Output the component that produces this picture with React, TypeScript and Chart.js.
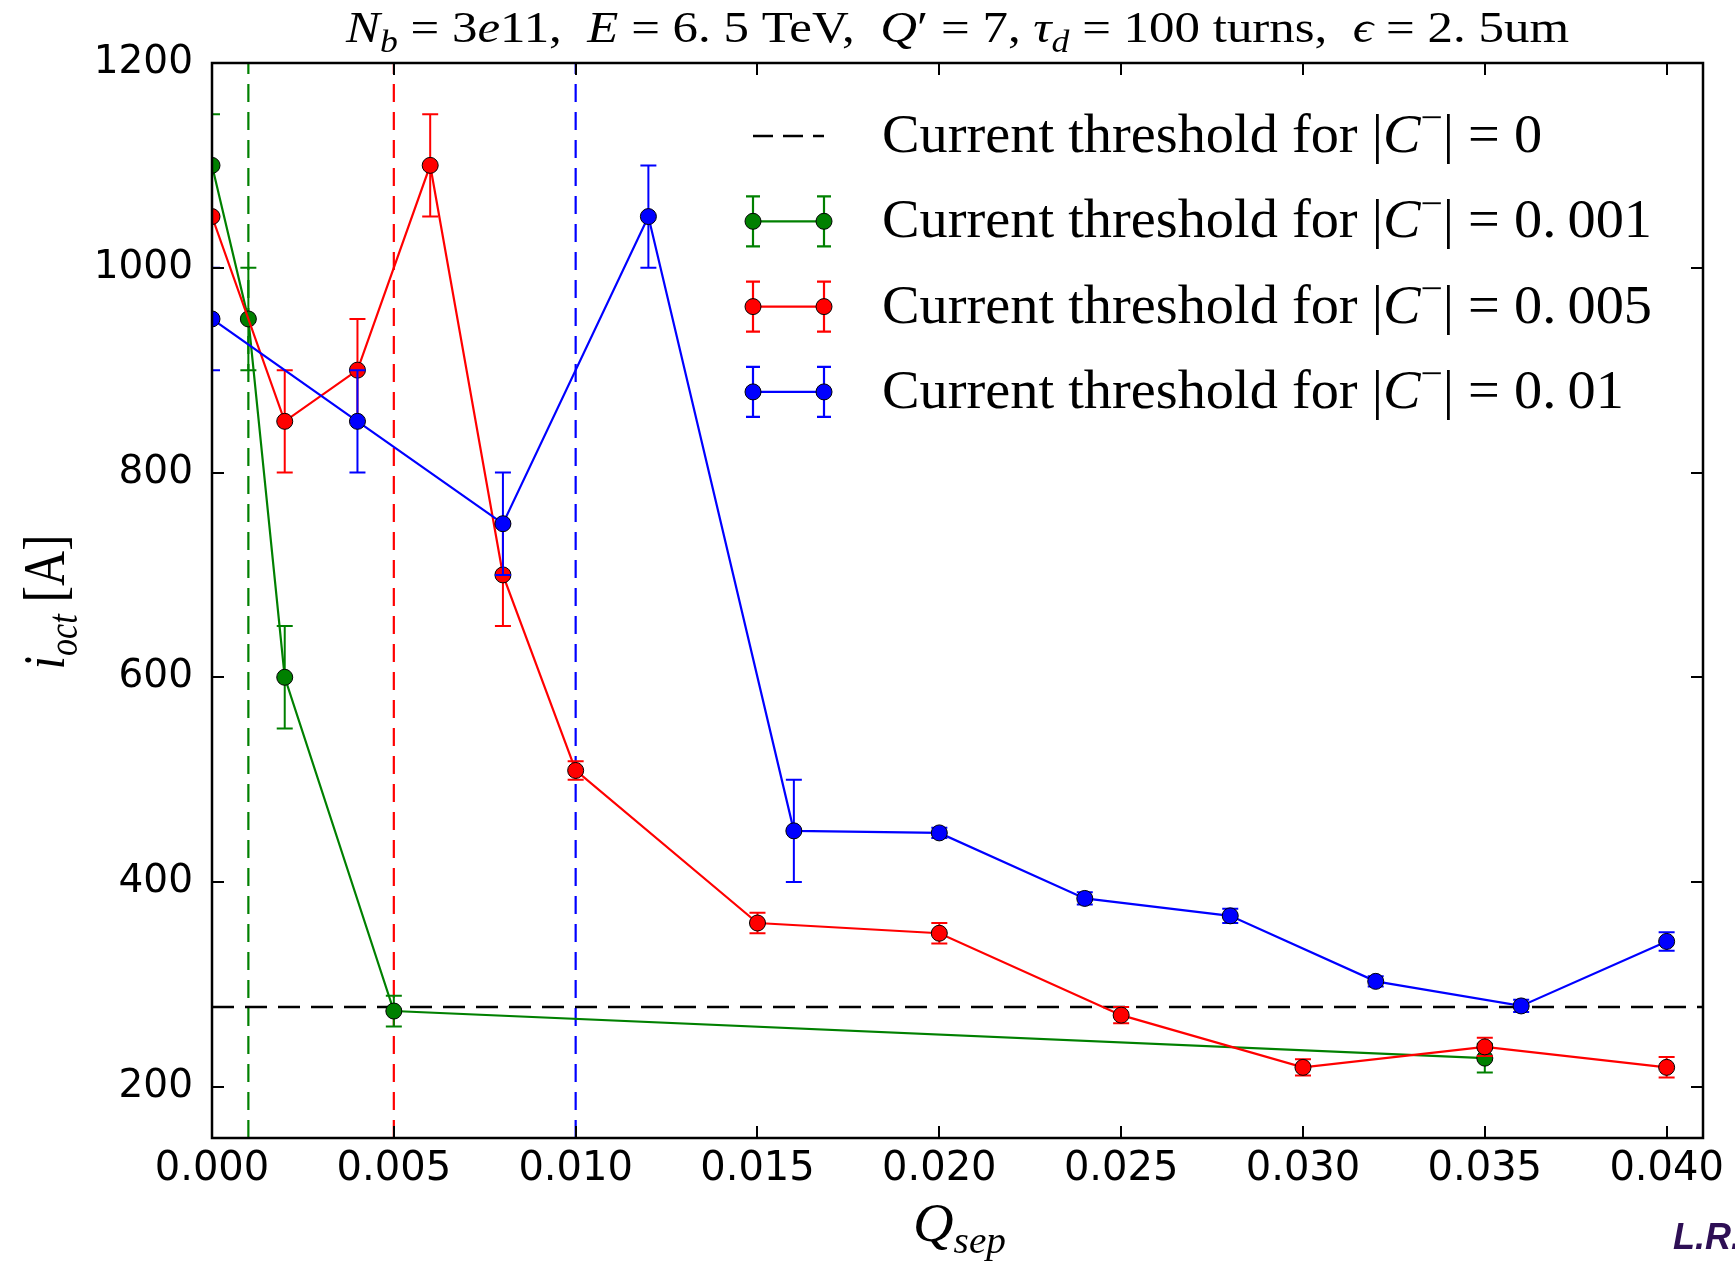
import React, { useEffect, useRef } from "react";
import { Chart, registerables } from "chart.js";

Chart.register(...registerables);

// ---------- axes ----------
const xTicks = [0, 0.005, 0.01, 0.015, 0.02, 0.025, 0.03, 0.035, 0.04];
const yTicks = [200, 400, 600, 800, 1000, 1200];
const xMin = 0;
const xMax = 0.041;
const yMin = 150;
const yMax = 1200;

// ---------- series: |C-| = 0.001 ----------
const greenX = [0, 0.001, 0.002, 0.005, 0.035];
const greenY = [1100, 950, 600, 274, 228];
const greenErr = [50, 50, 50, 15, 14];

// ---------- series: |C-| = 0.005 ----------
const redX = [0, 0.002, 0.004, 0.006, 0.008, 0.01, 0.015, 0.02, 0.025, 0.03, 0.035, 0.04];
const redY = [1050, 850, 900, 1100, 700, 509, 360, 350, 270, 219, 239, 219];
const redErr = [0, 50, 50, 50, 50, 9, 10, 10, 8, 8, 9, 10];

// ---------- series: |C-| = 0.01 ----------
const blueX = [0, 0.004, 0.008, 0.012, 0.016, 0.02, 0.024, 0.028, 0.032, 0.036, 0.04];
const blueY = [950, 850, 750, 1050, 450, 448, 384, 367, 303, 279, 342];
const blueErr = [50, 50, 50, 50, 50, 5, 6, 7, 5, 6, 9];

// ---------- reference lines ----------
const thresholdC0 = 278; // current threshold for |C-| = 0
const couplingLinesX = [0.001, 0.005, 0.01];
const couplingColors = ["#008000", "#ff0000", "#0000ff"];

// ---------- labels ----------
const legendValues = ["0", "0.\u2009001", "0.\u2009005", "0.\u200901"];
const legendColors = ["#000000", "#008000", "#ff0000", "#0000ff"];
const legendPrefix = "Current threshold for |";
const creditText = "L.R.";

type Seg = { t: string; i?: boolean; b?: "sub" | "sup" };

const titleSegs: Seg[] = [
  { t: "N", i: true },
  { t: "b", i: true, b: "sub" },
  { t: " = 3" },
  { t: "e", i: true },
  { t: "11,  " },
  { t: "E", i: true },
  { t: " = 6. 5 TeV,  " },
  { t: "Q", i: true },
  { t: "\u2032 = 7, " },
  { t: "\u03c4", i: true },
  { t: "d", i: true, b: "sub" },
  { t: " = 100 turns,  " },
  { t: "\u03f5", i: true },
  { t: " = 2. 5um" },
];
const yLabelSegs: Seg[] = [
  { t: "i", i: true },
  { t: "oct", i: true, b: "sub" },
  { t: " [A]" },
];
const xLabelSegs: Seg[] = [
  { t: "Q", i: true },
  { t: "sep", i: true, b: "sub" },
];

const SERIF = "'Liberation Serif', 'DejaVu Serif', serif";
const SANS = "'DejaVu Sans', sans-serif";

function segFont(s: Seg, size: number) {
  const fs = s.b ? size * 0.7 : size;
  return `${s.i ? "italic " : ""}${fs}px ${SERIF}`;
}
function richWidth(ctx: CanvasRenderingContext2D, segs: Seg[], size: number) {
  let w = 0;
  for (const s of segs) {
    ctx.font = segFont(s, size);
    w += ctx.measureText(s.t).width;
  }
  return w;
}
function drawRich(
  ctx: CanvasRenderingContext2D,
  segs: Seg[],
  x: number,
  y: number,
  size: number,
  opts: { align?: "left" | "center"; target?: number; sy?: number; rotate?: number; color?: string } = {}
) {
  const W = richWidth(ctx, segs, size);
  const sx = opts.target ? opts.target / W : 1;
  ctx.save();
  ctx.translate(x, y);
  if (opts.rotate) ctx.rotate(opts.rotate);
  ctx.scale(sx, opts.sy || 1);
  ctx.fillStyle = opts.color || "#000";
  ctx.textBaseline = "alphabetic";
  ctx.textAlign = "left";
  let cx = opts.align === "center" ? -W / 2 : 0;
  for (const s of segs) {
    ctx.font = segFont(s, size);
    const dy = s.b === "sub" ? size * 0.22 : s.b === "sup" ? -size * 0.4 : 0;
    ctx.fillText(s.t, cx, dy);
    cx += ctx.measureText(s.t).width;
  }
  ctx.restore();
}

function legendSegs(v: string): Seg[] {
  return [
    { t: legendPrefix },
    { t: "C", i: true },
    { t: "\u2212", b: "sup" },
    { t: "| = " + v },
  ];
}

const errorBarPlugin = {
  id: "errorBars",
  beforeDatasetDraw(chart: any, args: any) {
    const ds = chart.data.datasets[args.index];
    if (!ds.errors) return;
    const { ctx, chartArea } = chart;
    const xs = chart.scales.x;
    const ys = chart.scales.y;
    ctx.save();
    ctx.beginPath();
    ctx.rect(chartArea.left, chartArea.top, chartArea.right - chartArea.left, chartArea.bottom - chartArea.top);
    ctx.clip();
    ctx.strokeStyle = ds.borderColor;
    ctx.lineWidth = 2;
    ds.data.forEach((p: any, i: number) => {
      const e = ds.errors[i];
      if (!e) return;
      const px = xs.getPixelForValue(p.x);
      const top = ys.getPixelForValue(p.y + e);
      const bot = ys.getPixelForValue(p.y - e);
      ctx.beginPath();
      ctx.moveTo(px, top);
      ctx.lineTo(px, bot);
      ctx.moveTo(px - 8, top);
      ctx.lineTo(px + 8, top);
      ctx.moveTo(px - 8, bot);
      ctx.lineTo(px + 8, bot);
      ctx.stroke();
    });
    ctx.restore();
  },
};

const decorPlugin = {
  id: "decor",
  afterDraw(chart: any) {
    const { ctx, chartArea } = chart;
    const { left, right, top, bottom } = chartArea;
    const xs = chart.scales.x;
    const ys = chart.scales.y;
    ctx.save();
    // inward ticks on all four sides
    ctx.strokeStyle = "#000";
    ctx.lineWidth = 2;
    const tl = 12;
    ctx.beginPath();
    for (const v of xTicks) {
      const px = Math.round(xs.getPixelForValue(v));
      ctx.moveTo(px, bottom);
      ctx.lineTo(px, bottom - tl);
      ctx.moveTo(px, top);
      ctx.lineTo(px, top + tl);
    }
    for (const v of yTicks) {
      const py = Math.round(ys.getPixelForValue(v));
      ctx.moveTo(left, py);
      ctx.lineTo(left + tl, py);
      ctx.moveTo(right, py);
      ctx.lineTo(right - tl, py);
    }
    ctx.stroke();
    // frame
    ctx.lineWidth = 2.5;
    ctx.strokeRect(left, top, right - left, bottom - top);

    // title
    drawRich(ctx, titleSegs, (left + right) / 2, 42, 42, { align: "center", target: 1223, sy: 1.05 });
    // axis labels
    drawRich(ctx, xLabelSegs, (left + right) / 2 + 2, 1241, 54, { align: "center", target: 93 });
    drawRich(ctx, yLabelSegs, 64, 602, 60, { align: "center", target: 135, rotate: -Math.PI / 2 });

    // legend
    const hx1 = left + 541;
    const hx2 = left + 612;
    const tx = left + 670;
    const legendFont = 54;
    const W2 = richWidth(ctx, legendSegs(legendValues[1]), legendFont);
    const sx = 770 / W2;
    legendValues.forEach((v, i) => {
      const cy = top + 73 + i * 85.3;
      const col = legendColors[i];
      if (i === 0) {
        ctx.strokeStyle = col;
        ctx.lineWidth = 2.5;
        ctx.setLineDash([20, 10]);
        ctx.beginPath();
        ctx.moveTo(hx1, cy);
        ctx.lineTo(hx2, cy);
        ctx.stroke();
        ctx.setLineDash([]);
      } else {
        ctx.strokeStyle = col;
        ctx.lineWidth = 2.2;
        ctx.beginPath();
        ctx.moveTo(hx1, cy);
        ctx.lineTo(hx2, cy);
        for (const hx of [hx1, hx2]) {
          ctx.moveTo(hx, cy - 25);
          ctx.lineTo(hx, cy + 25);
          ctx.moveTo(hx - 7, cy - 25);
          ctx.lineTo(hx + 7, cy - 25);
          ctx.moveTo(hx - 7, cy + 25);
          ctx.lineTo(hx + 7, cy + 25);
        }
        ctx.stroke();
        for (const hx of [hx1, hx2]) {
          ctx.beginPath();
          ctx.arc(hx, cy, 8, 0, Math.PI * 2);
          ctx.fillStyle = col;
          ctx.fill();
          ctx.lineWidth = 1;
          ctx.strokeStyle = "#000";
          ctx.stroke();
        }
      }
      const segs = legendSegs(v);
      const W = richWidth(ctx, segs, legendFont);
      drawRich(ctx, segs, tx, cy + 16, legendFont, { target: W * sx });
    });

    // credit
    ctx.font = `italic bold 36px 'Liberation Sans', Arial, sans-serif`;
    ctx.fillStyle = "#2e0f55";
    ctx.textAlign = "left";
    ctx.textBaseline = "alphabetic";
    ctx.fillText(creditText, 1673, 1249);
    ctx.restore();
  },
};

function series(xs: number[], ys: number[]) {
  return xs.map((x, i) => ({ x, y: ys[i] }));
}

export default function App() {
  const ref = useRef<HTMLCanvasElement | null>(null);
  useEffect(() => {
    if (!ref.current) return;
    const mk = (label: string, color: string, xs: number[], ys: number[], errs: number[], order: number) => ({
      label,
      data: series(xs, ys),
      errors: errs,
      borderColor: color,
      backgroundColor: color,
      borderWidth: 2.2,
      pointRadius: 8,
      pointHoverRadius: 8,
      pointBackgroundColor: color,
      pointBorderColor: "#000",
      pointBorderWidth: 1,
      tension: 0,
      clip: 0,
      order,
    });
    const refLine = (data: any[], color: string, dash: number[], width: number, order: number) => ({
      label: "",
      data,
      borderColor: color,
      borderWidth: width,
      borderDash: dash,
      pointRadius: 0,
      tension: 0,
      clip: 0,
      order,
    });
    const datasets: any[] = [
      ...couplingLinesX.map((x, i) =>
        refLine([{ x, y: yMin }, { x, y: yMax }], couplingColors[i], [18, 10], 2.2, 20 + i)
      ),
      refLine([{ x: xMin, y: thresholdC0 }, { x: xMax, y: thresholdC0 }], "#000", [22, 11], 2.5, 15),
      mk("|C-| = 0.001", "#008000", greenX, greenY, greenErr, 3),
      mk("|C-| = 0.005", "#ff0000", redX, redY, redErr, 2),
      mk("|C-| = 0.01", "#0000ff", blueX, blueY, blueErr, 1),
    ];
    const chart = new Chart(ref.current, {
      type: "line",
      data: { datasets },
      plugins: [errorBarPlugin, decorPlugin],
      options: {
        animation: false,
        responsive: false,
        devicePixelRatio: 1,
        layout: { padding: { top: 63, right: 32, left: 0, bottom: 0 } },
        plugins: {
          legend: { display: false },
          tooltip: { enabled: false },
          title: { display: false },
        },
        scales: {
          x: {
            type: "linear",
            min: xMin,
            max: xMax,
            grid: { display: false, drawTicks: false },
            border: { display: false },
            ticks: {
              color: "#000",
              font: { family: SANS, size: 40 },
              padding: 8,
              maxRotation: 0,
              autoSkip: false,
              callback: (v: any) => Number(v).toFixed(3),
            },
            afterBuildTicks: (s: any) => {
              s.ticks = xTicks.map((value) => ({ value }));
            },
            afterFit: (s: any) => {
              s.height = 124;
              s.paddingLeft = 0;
              s.paddingRight = 0;
            },
          },
          y: {
            type: "linear",
            min: yMin,
            max: yMax,
            grid: { display: false, drawTicks: false },
            border: { display: false },
            ticks: {
              color: "#000",
              font: { family: SANS, size: 39 },
              padding: 19,
              autoSkip: false,
              callback: (v: any) => String(v),
            },
            afterBuildTicks: (s: any) => {
              s.ticks = yTicks.map((value) => ({ value }));
            },
            afterFit: (s: any) => {
              s.width = 212;
              s.paddingTop = 0;
              s.paddingBottom = 0;
            },
          },
        },
      } as any,
    });
    return () => chart.destroy();
  }, []);
  return (
    <div style={{ position: "fixed", left: 0, top: 0, width: 1735, height: 1262, background: "#fff" }}>
      <canvas ref={ref} width={1735} height={1262} style={{ display: "block" }} />
    </div>
  );
}
